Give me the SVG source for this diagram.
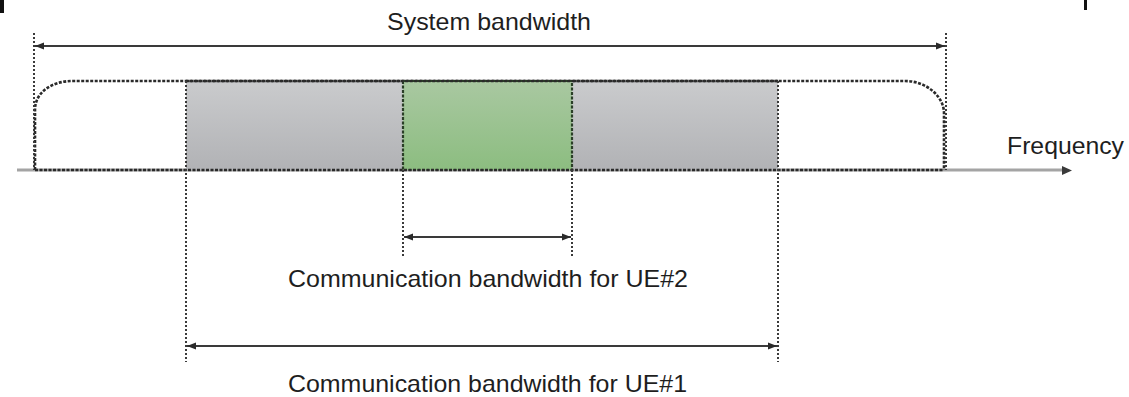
<svg xmlns="http://www.w3.org/2000/svg" width="1129" height="397" viewBox="0 0 1129 397">
  <style>
    .label { font-family: "Liberation Sans", Arial, sans-serif; font-size: 24px; fill: #1e1e1e; }
    .guide { fill: none; stroke: #3a3a3a; stroke-width: 2; stroke-dasharray: 2 2; }
    .outline { fill: none; stroke: #2a2a2a; stroke-width: 2.6; stroke-dasharray: 3 1.5; }
    .dim { fill: none; stroke: #3a3a3a; stroke-width: 1.8; marker-start: url(#head-start); marker-end: url(#head-end); }
  </style>
  <defs>
    <linearGradient id="grayFill" x1="0" y1="0" x2="0" y2="1">
      <stop offset="0" stop-color="#cacbcd"/>
      <stop offset="1" stop-color="#b1b2b5"/>
    </linearGradient>
    <linearGradient id="greenFill" x1="0" y1="0" x2="0" y2="1">
      <stop offset="0" stop-color="#a9c8a1"/>
      <stop offset="1" stop-color="#8cbd80"/>
    </linearGradient>
    <marker id="head-end" markerUnits="userSpaceOnUse" markerWidth="10" markerHeight="8" refX="9" refY="4" orient="auto">
      <path d="M0,0.5 L9,4 L0,7.5 Z" fill="#2a2a2a"/>
    </marker>
    <marker id="head-start" markerUnits="userSpaceOnUse" markerWidth="10" markerHeight="8" refX="0" refY="4" orient="auto">
      <path d="M9,0.5 L0,4 L9,7.5 Z" fill="#2a2a2a"/>
    </marker>
  </defs>

  <rect width="1129" height="397" fill="#fff"/>

  <!-- clipped marks at the top edge -->
  <rect x="0" y="0" width="4" height="13" fill="#111"/>
  <rect x="1084" y="0" width="3" height="10" fill="#111"/>

  <!-- frequency axis -->
  <g id="axis">
    <line x1="17" y1="170" x2="1064" y2="170" stroke="#a4a4a4" stroke-width="3.2"/>
    <path d="M1062,166 L1072,170.5 L1062,175 Z" fill="#3a3a3a"/>
    <text class="label" x="1007" y="154" textLength="117" lengthAdjust="spacingAndGlyphs">Frequency</text>
  </g>

  <!-- band allocated to UE#1 -->
  <g id="ue1-band">
    <rect x="186" y="81" width="592" height="89" fill="url(#grayFill)"/>
    <line class="outline" x1="186" y1="81" x2="778" y2="81"/>
  </g>

  <!-- band allocated to UE#2 -->
  <g id="ue2-band">
    <rect x="403" y="81" width="169" height="89" fill="url(#greenFill)"/>
    <rect x="403" y="81" width="169" height="89" fill="none" stroke="#2a3f27" stroke-width="2.2" stroke-dasharray="3 1.5"/>
  </g>

  <!-- system bandwidth envelope -->
  <g id="system-band">
    <path class="outline" d="M35,170 L35,110 C35,92 52,81 73,81 L905,81 C927,81 944,97 944,113 L944,170"/>
    <line class="outline" x1="35" y1="170" x2="944" y2="170"/>
  </g>

  <!-- dimension lines and their guides -->
  <g id="connectors">
    <line class="guide" x1="34" y1="33" x2="34" y2="170"/>
    <line class="guide" x1="946" y1="33" x2="946" y2="170"/>
    <line class="guide" x1="186" y1="81" x2="186" y2="362"/>
    <line class="guide" x1="778" y1="81" x2="778" y2="362"/>
    <line class="guide" x1="403" y1="170" x2="403" y2="257"/>
    <line class="guide" x1="572" y1="170" x2="572" y2="257"/>

    <line class="dim" x1="35" y1="46" x2="945" y2="46"/>
    <line class="dim" x1="404" y1="237" x2="571" y2="237"/>
    <line class="dim" x1="187" y1="346" x2="777" y2="346"/>
  </g>

  <!-- labels -->
  <g id="labels">
    <text class="label" x="387" y="30" textLength="204" lengthAdjust="spacingAndGlyphs">System bandwidth</text>
    <text class="label" x="288" y="287" textLength="400" lengthAdjust="spacingAndGlyphs">Communication bandwidth for UE#2</text>
    <text class="label" x="288" y="392" textLength="399" lengthAdjust="spacingAndGlyphs">Communication bandwidth for UE#1</text>
  </g>
</svg>
